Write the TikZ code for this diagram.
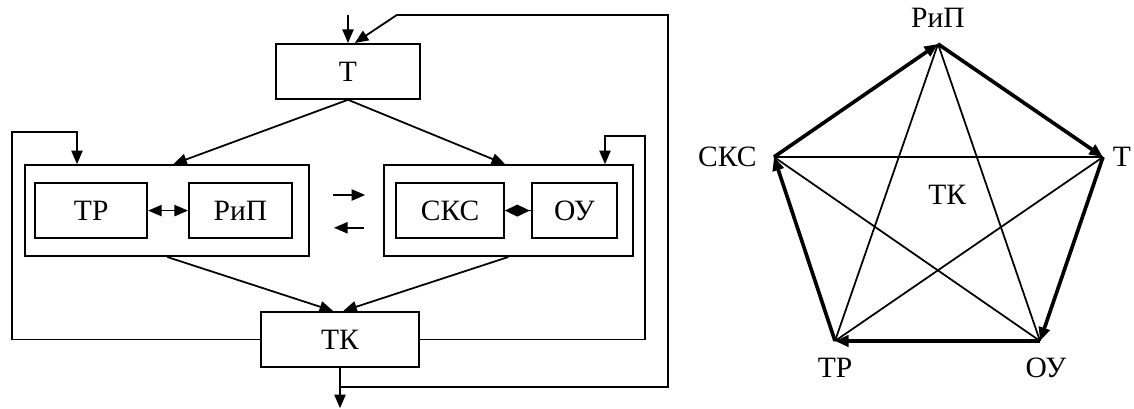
\documentclass[tikz,border=0pt]{standalone}
\usepackage{fontspec}
\setmainfont{Liberation Serif}
\usetikzlibrary{arrows.meta}

\begin{document}
\begin{tikzpicture}[>={Triangle[length=0.34cm,width=0.28cm]}, line width=1.25pt,
        font=\fontsize{21}{25}\selectfont,
        box/.style={draw, inner sep=0pt, minimum height=1.375cm},
        group/.style={draw, inner sep=0pt, minimum height=2.275cm},
        edge/.style={line width=2.6pt}]
        \useasboundingbox (0,0) rectangle (28.35,10.225);

        % left scheme
        \node[box, minimum width=3.6cm] (T) at (8.7,8.44) {Т};
        \node[group, minimum width=7.1cm] (gL) at (4.18,4.96) {};
        \node[group, minimum width=6.225cm] (gR) at (12.71,4.96) {};
        \node[box, minimum width=2.8cm] (TR) at (2.28,4.96) {ТР};
        \node[box, minimum width=2.575cm] (RiP) at (6.01,4.96) {РиП};
        \node[box, minimum width=2.7cm] (SKS) at (11.25,4.96) {СКС};
        \node[box, minimum width=2.125cm] (OU) at (14.36,4.96) {ОУ};
        \node[box, minimum width=3.95cm] (TK) at (8.5,1.74) {ТК};

        \coordinate (in) at (8.7,9.85);
        \coordinate (out) at (8.5,0.02);
        \coordinate (tap) at (8.5,0.55);
        \coordinate (fr1) at (16.7,0.55);
        \coordinate (fr2) at (16.7,9.85);
        \coordinate (fr3) at (9.92,9.85);
        \coordinate (ll) at (0.3,6.925);
        \coordinate (lt) at (1.925,6.925);
        \coordinate (rl) at (16.125,6.825);
        \coordinate (rt) at (15.125,6.825);
        \coordinate (m1a) at (8.33,5.35);
        \coordinate (m1b) at (9.13,5.35);
        \coordinate (m2a) at (9.1,4.53);
        \coordinate (m2b) at (8.35,4.53);

        \draw[->] (in) -- (T.north);
        \draw[->] (T.south) -- ([xshift=0.15cm]gL.north);
        \draw[->] (T.south) -- ([xshift=-0.08cm]gR.north);
        \draw[->] (gL.south) -- ([xshift=-0.17cm]TK.north);
        \draw[->] (gR.south) -- ([xshift=0.08cm]TK.north);
        \draw[<->] (TR.east) -- (RiP.west);
        \draw[{Diamond[length=0.62cm,width=0.3cm]}-] (SKS.east) -- (OU.west);
        \draw[->] (m1a) -- (m1b);
        \draw[->] (m2a) -- (m2b);
        \draw[->] (TK.south) -- (out);
        \draw[->] (tap) -- (fr1) -- (fr2) -- (fr3) -- ([xshift=0.17cm]T.north);
        \draw[->] (TK.west) -| (ll) -- (lt) -- (lt |- gL.north);
        \draw[->] (TK.east) -| (rl) -- (rt) -- (rt |- gR.north);

        % right graph
        \coordinate (vRiP) at (23.45,9.125);
        \coordinate (vT) at (27.575,6.3);
        \coordinate (vOU) at (26.0,1.7);
        \coordinate (vTR) at (20.875,1.7);
        \coordinate (vSKS) at (19.35,6.3);
        \node (lRiP) at (23.45,9.775) {РиП};
        \node[anchor=west, inner sep=0pt] (lT) at (27.8,6.3) {Т};
        \node[anchor=east] (lSKS) at (19.05,6.3) {СКС};
        \node (lTR) at (20.875,1.02) {ТР};
        \node (lOU) at (26.15,1.02) {ОУ};
        \node (lTK) at (23.68,5.35) {ТК};

        \draw[edge, ->] (vSKS) -- (vRiP);
        \draw[edge, ->] (vRiP) -- (vT);
        \draw[edge, ->] (vT) -- (vOU);
        \draw[edge, ->] (vOU) -- (vTR);
        \draw[edge, ->] (vTR) -- (vSKS);
        \draw (vSKS) -- (vT);
        \draw (vRiP) -- (vTR);
        \draw (vRiP) -- (vOU);
        \draw (vSKS) -- (vOU);
        \draw (vT) -- (vTR);
    \end{tikzpicture}
\end{document}
